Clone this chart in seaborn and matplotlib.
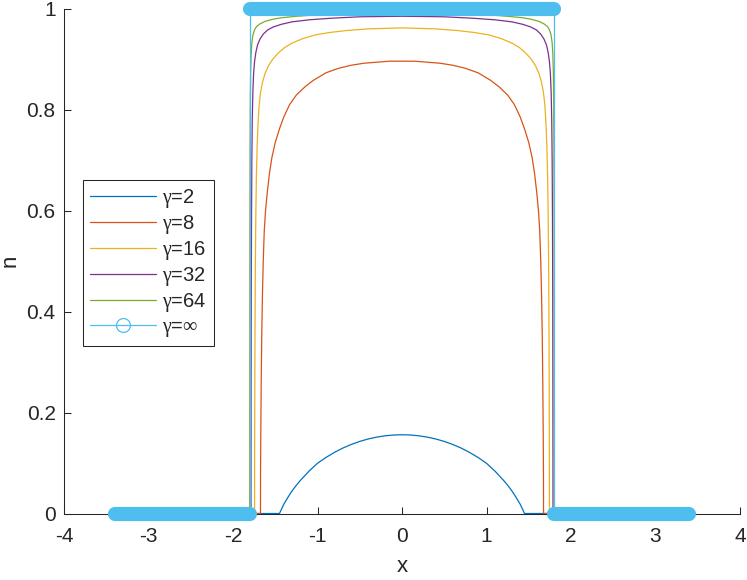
import numpy as np
import pandas as pd
import seaborn as sns
from matplotlib import pyplot as plt
from matplotlib.lines import Line2D

# left halves of the (symmetric) profiles n(x)
x_g2 = [-3.4, -1.45, -1.4, -1.35, -1.3, -1.25, -1.2, -1.1, -1.0, -0.9, -0.8, -0.7, -0.6,
        -0.5, -0.4, -0.3, -0.2, -0.1, 0.0]
n_g2 = [0, 0, 0.018, 0.032, 0.045, 0.056, 0.066, 0.084, 0.0995, 0.111, 0.121, 0.1296, 0.1368,
        0.1428, 0.1476, 0.1513, 0.1539, 0.1555, 0.156]

x_g8 = [-3.4, -1.675, -1.674, -1.671, -1.666, -1.66, -1.652, -1.642, -1.63, -1.615, -1.595,
        -1.57, -1.54, -1.5, -1.45, -1.4, -1.33, -1.25, -1.15, -1.05, -0.9, -0.75, -0.6,
        -0.45, -0.3, -0.15, 0.0]
n_g8 = [0, 0, 0.08, 0.16, 0.26, 0.35, 0.43, 0.50, 0.56, 0.60, 0.635,
        0.672, 0.705, 0.735, 0.762, 0.785, 0.81, 0.829, 0.845, 0.858, 0.873, 0.882, 0.888,
        0.892, 0.894, 0.896, 0.896]

x_g16 = [-3.4, -1.745, -1.744, -1.742, -1.739, -1.735, -1.73, -1.723, -1.714, -1.703, -1.69,
         -1.673, -1.65, -1.62, -1.58, -1.53, -1.465, -1.39, -1.3, -1.17, -1.03, -0.85, -0.64,
         -0.4, -0.2, 0.0]
n_g16 = [0, 0, 0.12, 0.25, 0.38, 0.5, 0.59, 0.67, 0.73, 0.775, 0.81,
         0.835, 0.855, 0.872, 0.887, 0.90, 0.912, 0.923, 0.932, 0.941, 0.948, 0.953, 0.957,
         0.960, 0.961, 0.962]

x_g32 = [-3.4, -1.787, -1.786, -1.784, -1.781, -1.777, -1.772, -1.765, -1.756, -1.745, -1.73,
         -1.71, -1.68, -1.64, -1.59, -1.52, -1.43, -1.3, -1.1, -0.85, -0.5, 0.0]
n_g32 = [0, 0, 0.2, 0.42, 0.58, 0.70, 0.78, 0.835, 0.872, 0.895, 0.913,
         0.928, 0.940, 0.950, 0.958, 0.964, 0.969, 0.974, 0.978, 0.981, 0.984, 0.985]

x_g64 = [-3.4, -1.802, -1.801, -1.8, -1.798, -1.795, -1.791, -1.785, -1.777, -1.765, -1.745,
         -1.72, -1.68, -1.62, -1.53, -1.43, -1.25, -1.0, -0.6, 0.0]
n_g64 = [0, 0, 0.3, 0.55, 0.72, 0.82, 0.875, 0.91, 0.932, 0.947, 0.958,
         0.965, 0.970, 0.975, 0.979, 0.982, 0.985, 0.988, 0.991, 0.992]

x_inf = [-3.4, -1.8, -1.8, 1.8, 1.8, 3.4]
n_inf = [0, 0, 1, 1, 0, 0]

labels = ['$\\gamma$=2', '$\\gamma$=8', '$\\gamma$=16', '$\\gamma$=32', '$\\gamma$=64',
          '$\\gamma$=$\\infty$']
colors = ['#0072BD', '#D95319', '#EDB120', '#7E2F8E', '#77AC30', '#4DBEEE']


def mirror(xs, ns):
    # profiles are symmetric about x = 0: append the right half
    xs, ns = list(xs), list(ns)
    return xs + [-v for v in xs[-2::-1]], ns + ns[-2::-1]


sns.set_style('ticks')
plt.rcParams['font.family'] = ['Liberation Sans', 'DejaVu Sans']
plt.rcParams['axes.unicode_minus'] = False
plt.rcParams['mathtext.fontset'] = 'custom'
plt.rcParams['mathtext.rm'] = 'Liberation Serif'
plt.rcParams['mathtext.it'] = 'Liberation Serif'
plt.rcParams['mathtext.default'] = 'rm'

fig = plt.figure(figsize=(7.47, 5.80), dpi=100)
ax = fig.add_axes([64 / 747, 1 - 513.5 / 580, 676 / 747, 504.8 / 580])

curves = [(x_g2, n_g2), (x_g8, n_g8), (x_g16, n_g16), (x_g32, n_g32), (x_g64, n_g64)]
for (xs, ns), col in zip(curves, colors):
    fx, fn = mirror(xs, ns)
    sns.lineplot(x=fx, y=fn, color=col, lw=0.9, sort=False, estimator=None, ax=ax)

# gamma = infinity: step profile, thin line plus the dense marker band
ax.plot(x_inf, n_inf, color=colors[5], lw=0.9, clip_on=False, zorder=4)
for i in range(len(x_inf) - 1):
    if n_inf[i] == n_inf[i + 1]:
        ax.plot(x_inf[i:i + 2], n_inf[i:i + 2], color=colors[5], lw=10.2,
                solid_capstyle='round', clip_on=False, zorder=5)

ax.set_xlim(-4, 4)
ax.set_ylim(0, 1)
ax.set_xticks(np.arange(-4, 5, 1))
ax.set_xticklabels(['-4', '-3', '-2', '-1', '0', '1', '2', '3', '4'])
ax.set_yticks([0, 0.2, 0.4, 0.6, 0.8, 1])
ax.set_yticklabels(['0', '0.2', '0.4', '0.6', '0.8', '1'])
ax.set_xlabel('x', fontsize=16, color='#262626', labelpad=7)
ax.set_ylabel('n', fontsize=16, color='#262626', labelpad=4)

sns.despine(ax=ax)
for side in ['left', 'bottom']:
    ax.spines[side].set_color('#262626')
    ax.spines[side].set_linewidth(0.75)
ax.tick_params(direction='in', length=5, width=0.75, color='#262626',
               labelsize=15, labelcolor='#262626')
ax.tick_params(axis='x', pad=10)
ax.tick_params(axis='y', pad=6)

handles = [Line2D([], [], color=c, lw=0.9) for c in colors[:5]]
handles.append(Line2D([], [], color=colors[5], lw=0.9, marker='o', markersize=10,
                      markerfacecolor='none', markeredgewidth=0.9))
leg = ax.legend(handles, labels, loc='upper left', bbox_to_anchor=(0.0277, 0.6607),
                borderaxespad=0, fontsize=14.5, fancybox=False, framealpha=1,
                edgecolor='#262626', handlelength=3.3, handletextpad=0.3,
                labelspacing=0.15, borderpad=0.35)
leg.get_frame().set_linewidth(0.75)

fig.savefig('out.png', dpi=100)
